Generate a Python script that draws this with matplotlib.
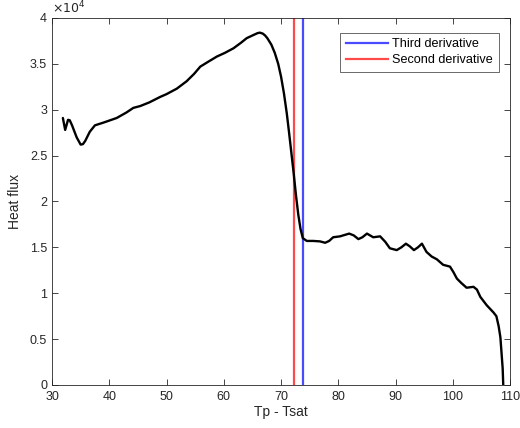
import matplotlib
matplotlib.use("Agg")
import matplotlib.pyplot as plt
from matplotlib.ticker import FuncFormatter

plt.rcParams['font.family'] = ['Liberation Sans', 'DejaVu Sans']

dT = [31.9, 32.3, 32.8, 33.1, 33.5, 34.3, 35.0, 35.4, 35.8, 36.6, 37.5, 39.0, 41.3, 43.0, 44.2, 45.4, 47.0,
      48.9, 50.0, 51.8, 53.5, 54.8, 55.9, 57.2, 58.8, 60.2, 61.7, 63.0, 64.0, 65.2, 65.9, 66.3, 66.8, 67.2,
      67.6, 68.3, 68.9, 69.5, 70.0, 70.5, 71.0, 71.4, 71.8, 72.2, 72.6, 73.0, 73.4, 73.8, 74.5, 75.6, 76.8, 77.7, 78.4, 79.1,
      80.3, 81.1, 81.9, 82.7, 83.5, 84.2, 85.0, 86.1, 87.3, 88.2, 89.0, 90.2, 91.0, 91.8, 92.5,
      93.2, 93.9, 94.6, 95.4, 96.3, 97.2, 98.3, 99.5, 100.1, 100.7, 101.5, 102.4, 103.6, 104.2,
      104.8, 105.9, 106.5, 107.1, 107.6, 108.0, 108.3, 108.5, 108.7, 108.8]
heat_flux = [29100, 27800, 28900, 28850, 28300, 27000, 26200, 26250, 26600, 27600, 28300, 28600, 29100, 29700, 30200, 30400, 30800,
             31400, 31700, 32300, 33100, 33900, 34700, 35200, 35800, 36200, 36700, 37300, 37800, 38150, 38350, 38400, 38300, 38100,
             37800, 37100, 36200, 35000, 33600, 31800, 29600, 27500, 25300, 23100, 20700, 18600, 17000, 16000, 15700, 15700, 15650, 15500, 15700, 16100,
             16200, 16350, 16500, 16300, 15900, 16100, 16500, 16100, 16200, 15600, 14900, 14700, 15000, 15400, 15100,
             14700, 15000, 15400, 14500, 14000, 13700, 13100, 12900, 12300, 11600, 11100, 10600, 10700, 10400,
             9600, 8700, 8300, 7900, 7500, 6400, 5200, 3500, 1800, 0]

third_derivative_x = 73.9
second_derivative_x = 72.3

xticks = [30, 40, 50, 60, 70, 80, 90, 100, 110]
yticks = [0, 5000, 10000, 15000, 20000, 25000, 30000, 35000, 40000]

fig = plt.figure(figsize=(5.2, 4.28), dpi=100)
ax = fig.add_axes([0.1, 0.1005, 0.881, 0.8575])

ax.plot(dT, heat_flux, color='black', lw=1.7, zorder=3, solid_joinstyle='round', solid_capstyle='round')
ax.axvline(third_derivative_x, color='#4a4aff', lw=1.6, label='Third derivative', zorder=2)
ax.axvline(second_derivative_x, color='#ff4a4a', lw=1.6, label='Second derivative', zorder=2)

ax.set_xlim(30, 110)
ax.set_ylim(0, 40000)
ax.set_xticks(xticks)
ax.set_yticks(yticks)
ax.yaxis.set_major_formatter(FuncFormatter(lambda v, p: '%g' % (v / 1e4)))

gray = '#262626'
for s in ax.spines.values():
    s.set_color(gray)
    s.set_linewidth(0.6)
ax.tick_params(direction='in', length=4, width=0.6, colors=gray, labelsize=9,
               top=True, right=True, labelcolor=gray)
ax.tick_params(axis='x', pad=4)
ax.set_xlabel('Tp - Tsat', fontsize=10, color=gray, labelpad=2)
ax.set_ylabel('Heat flux', fontsize=10, color=gray, labelpad=6)
ax.text(0.0, 1.005, r'$\times10^4$', transform=ax.transAxes, fontsize=9, color=gray,
        ha='left', va='bottom')

leg = ax.legend(loc='upper right', fontsize=9.1, frameon=True, fancybox=False,
                edgecolor=gray, handlelength=3.3, borderpad=0.45, labelspacing=0.3,
                handletextpad=0.35, borderaxespad=0.0, bbox_to_anchor=(0.975, 0.96))
leg.get_frame().set_linewidth(0.6)

fig.savefig('out.png', dpi=100)
